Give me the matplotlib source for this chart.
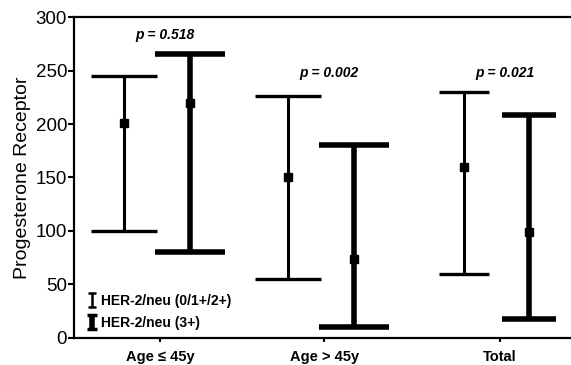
import matplotlib
matplotlib.use("Agg")
import matplotlib.pyplot as plt
import numpy as np

plt.rcParams["font.family"] = ["Liberation Sans", "DejaVu Sans"]

# Данные
groups = ["Age ≤ 45y", "Age > 45y", "Total"]
low_mean = [201, 150, 160]
low_upper = [245, 226, 230]
low_lower = [100, 55, 60]
high_mean = [220, 74, 99]
high_upper = [265, 180, 208]
high_lower = [80, 10, 18]
p_labels = ["p = 0.518", "p = 0.002", "p = 0.021"]
p_y = [283, 248, 248]
labels = ["HER-2/neu (0/1+/2+)", "HER-2/neu (3+)"]

# Расположение групп
centers = np.array([1.0, 2.0, 3.07])
offset = 0.2
cap_half = [23.8, 23.8, 18.0]

fig = plt.figure(figsize=(5.71, 3.65), dpi=100)
ax = fig.add_axes([0.1296, 0.074, 0.8704, 0.8794])

for i in range(len(groups)):
    # тонкие — HER-2/neu (0/1+/2+)
    ax.errorbar(centers[i] - offset, low_mean[i],
                yerr=[[low_mean[i] - low_lower[i]], [low_upper[i] - low_mean[i]]],
                fmt="s", color="black", ms=6, elinewidth=2.2, capsize=cap_half[i],
                capthick=2.4)
    # толстые — HER-2/neu (3+)
    ax.errorbar(centers[i] + offset, high_mean[i],
                yerr=[[high_mean[i] - high_lower[i]], [high_upper[i] - high_mean[i]]],
                fmt="s", color="black", ms=6, elinewidth=4, capsize=cap_half[i] + 1.5,
                capthick=4)
    ax.text(centers[i] + 0.05, p_y[i], p_labels[i], ha="center", va="center",
            fontsize=10, fontweight="bold", fontstyle="italic")

# Легенда
h1 = ax.errorbar([np.nan], [np.nan], yerr=[1], fmt="none", color="black",
                 elinewidth=1.8, capsize=3, capthick=1.8)
h2 = ax.errorbar([np.nan], [np.nan], yerr=[1], fmt="none", color="black",
                 elinewidth=4, capsize=3.5, capthick=2.5)
leg = ax.legend([h1, h2], labels, loc="lower left", bbox_to_anchor=(0.01, -0.005),
                frameon=False, handlelength=0.5, handletextpad=0.4,
                labelspacing=0.6, prop={"weight": "bold", "size": 10},
                borderaxespad=0.3)

ax.set_xlim(0.494, 3.524)
ax.set_ylim(0, 300)
ax.set_yticks([0, 50, 100, 150, 200, 250, 300])
ax.set_xticks(centers + 0.02)
ax.set_xticklabels(groups, fontsize=10.5, fontweight="bold")
ax.tick_params(axis="y", labelsize=13.5, length=4, width=1.5, pad=1)
ax.tick_params(axis="x", length=3, width=1.5, pad=6)
ax.set_ylabel("Progesterone Receptor", fontsize=14, labelpad=3)

for side in ["left", "bottom", "top"]:
    ax.spines[side].set_linewidth(1.6)
ax.spines["right"].set_visible(False)

fig.savefig("out.png", dpi=100)
